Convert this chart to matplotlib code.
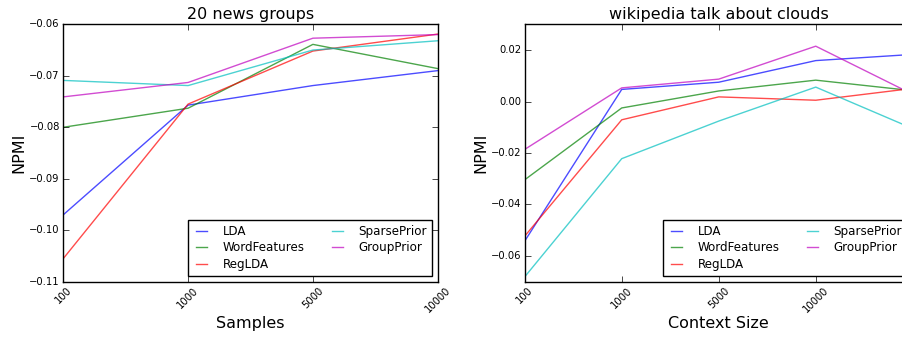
import numpy as np
import matplotlib
matplotlib.use('Agg')
import matplotlib.pyplot as plt

plt.style.use('classic')

# --- data ---
methods = ['LDA', 'WordFeatures', 'RegLDA', 'SparsePrior', 'GroupPrior']
colors = ['b', 'g', 'r', 'c', 'm']

news_samples = ['100', '1000', '5000', '10000']
news_lda = [-0.0970, -0.0757, -0.0719, -0.0690]
news_wordfeat = [-0.0800, -0.0763, -0.0639, -0.0686]
news_reglda = [-0.1055, -0.0755, -0.0652, -0.0619]
news_sparse = [-0.0709, -0.0719, -0.0650, -0.0632]
news_group = [-0.0741, -0.0713, -0.0627, -0.0620]

# last context size is cut off at the right edge of the picture
wiki_context = ['100', '1000', '5000', '10000']
wiki_lda = [-0.0542, 0.0047, 0.0075, 0.0159, 0.0183]
wiki_wordfeat = [-0.0304, -0.0025, 0.0041, 0.0083, 0.0042]
wiki_reglda = [-0.0523, -0.0071, 0.0018, 0.0005, 0.0051]
wiki_sparse = [-0.0681, -0.0222, -0.0076, 0.0056, -0.0105]
wiki_group = [-0.0186, 0.0053, 0.0087, 0.0215, 0.0028]

news = [news_lda, news_wordfeat, news_reglda, news_sparse, news_group]
wiki = [wiki_lda, wiki_wordfeat, wiki_reglda, wiki_sparse, wiki_group]

fig = plt.figure(figsize=(9.03, 3.37), dpi=100, facecolor='white')
ax1 = fig.add_axes([0.0701, 0.1641, 0.4146, 0.7638])
ax2 = fig.add_axes([0.5811, 0.1641, 0.4297, 0.7638])


def draw(ax, series, labels, title, xlabel, ylim, yticks):
    for vals, name, c in zip(series, methods, colors):
        ax.plot(np.arange(len(vals)), vals, color=c, alpha=0.7, lw=1.0, label=name)
    ax.set_xlim(0, max(len(v) for v in series) - 1)
    ax.set_ylim(*ylim)
    ax.set_yticks(yticks)
    ax.set_xticks(np.arange(len(labels)))
    ax.set_xticklabels(labels, rotation=45, fontsize=7.2)
    ax.tick_params(axis='y', labelsize=7.2, pad=2.5)
    ax.tick_params(axis='x', pad=2.5)
    ax.set_title(title, fontsize=11.5, pad=4)
    ax.set_xlabel(xlabel, fontsize=11.5, labelpad=1)
    ax.set_ylabel('NPMI', fontsize=11.5, labelpad=2)
    ax.legend(loc='lower right', ncol=2, fontsize=8.6, handlelength=1.5,
              handletextpad=1.0, columnspacing=2.0, labelspacing=0.3,
              borderpad=0.4, frameon=True, fancybox=False)


draw(ax1, news, news_samples, '20 news groups', 'Samples',
     (-0.11, -0.06), np.arange(-0.11, -0.0599, 0.01))
draw(ax2, wiki, wiki_context, 'wikipedia talk about clouds', 'Context Size',
     (-0.07, 0.03), np.arange(-0.06, 0.0201, 0.02))

fig.savefig('out.png', dpi=100, facecolor='white')
